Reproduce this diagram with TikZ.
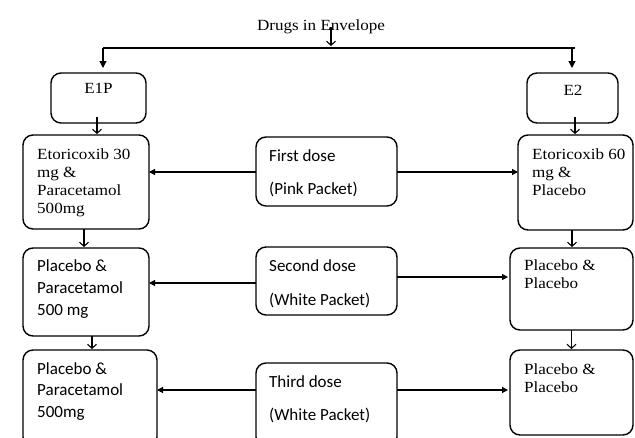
\documentclass[tikz,border=0pt]{standalone}
\usepackage{fontspec}
\usetikzlibrary{arrows.meta}
\newfontfamily\srf{Liberation Serif}[FakeStretch=1.1]
\newfontfamily\snf{Carlito}
\newcommand\mylines[2]{\parbox[t]{#1}{\raggedright #2}}
\begin{document}
\begin{tikzpicture}[x=1pt,y=-1pt,
 box/.style={draw, line width=1.4pt, rounded corners=10pt, inner sep=0pt, outer sep=0pt},
 ser/.style={font=\srf\fontsize{15.5}{18}\selectfont, inner sep=0pt, anchor=base west},
 san/.style={font=\snf\fontsize{17}{22}\selectfont, inner sep=0pt, anchor=base west},
 fa/.style={-{Triangle[length=6pt,width=6pt]}, line width=1.2pt},
 ob/.style={-{Triangle[length=7pt,width=7pt]}, line width=1.2pt},
 oa/.style={-{Straight Barb[length=4pt,width=9pt]}, line width=1.1pt}]
\useasboundingbox (0,0) rectangle (635,437);
\clip (0,0) rectangle (635,437);
% boxes
\node[box, minimum width=95pt, minimum height=50pt] (E1P) at (98.5,98) {};
\node[box, minimum width=91pt, minimum height=50pt] (E2) at (572.5,98) {};
\node[box, minimum width=126pt, minimum height=94pt] (L1) at (86,182) {};
\node[box, minimum width=115pt, minimum height=95pt] (R1) at (575.5,182.5) {};
\node[box, minimum width=141pt, minimum height=69pt] (M1) at (326.5,171.5) {};
\node[box, minimum width=126pt, minimum height=88pt] (L2) at (86,292) {};
\node[box, minimum width=141pt, minimum height=68pt] (M2) at (326.5,281) {};
\node[box, minimum width=123pt, minimum height=82pt] (R2) at (571.5,289) {};
\node[box, minimum width=134pt, minimum height=97pt] (L3) at (90,398.5) {};
\node[box, minimum width=141pt, minimum height=84pt] (M3) at (326.5,405) {};
\node[box, minimum width=123pt, minimum height=85pt] (R3) at (571.5,392.5) {};
% texts
\node[ser, anchor=base] (title) at (321,30) {Drugs in Envelope};
\node[ser, anchor=base] (tE1P) at (98.5,93) {E1P};
\node[ser, anchor=base] (tE2) at (573,95) {E2};
\node[ser] (tL1) at (37,159) {\mylines{120pt}{Etoricoxib 30\\mg \&\\Paracetamol\\500mg}};
\node[ser] (tR1) at (532,159) {\mylines{110pt}{Etoricoxib 60\\mg \&\\Placebo}};
\node[san, font=\snf\fontsize{17}{33}\selectfont] (tM1) at (269,161) {\mylines{130pt}{First dose\\(Pink Packet)}};
\node[san] (tL2) at (37,271) {\mylines{120pt}{Placebo \&\\Paracetamol\\500 mg}};
\node[san, font=\snf\fontsize{17}{34}\selectfont] (tM2) at (269,271) {\mylines{130pt}{Second dose\\(White Packet)}};
\node[ser] (tR2) at (524,270) {\mylines{110pt}{Placebo \&\\Placebo}};
\node[san, font=\snf\fontsize{17}{21.5}\selectfont] (tL3) at (37,374) {\mylines{120pt}{Placebo \&\\Paracetamol\\500mg}};
\node[san, font=\snf\fontsize{17}{33}\selectfont] (tM3) at (269,387) {\mylines{130pt}{Third dose\\(White Packet)}};
\node[ser] (tR3) at (524,374) {\mylines{110pt}{Placebo \&\\Placebo}};
% top connectors
\coordinate (ta) at (331,27);
\coordinate (tb) at (331,46);
\coordinate (hL) at (103,48);
\coordinate (hR) at (575,48);
\draw[oa] (ta) -- (tb);
\draw[line width=1.2pt] (hL) -- (hR);
\draw[ob, shorten >=5pt] (hL) -- (hL |- E1P.north);
\draw[ob, shorten >=5pt] ([xshift=-3pt]hR) -- ([xshift=-3pt]hR |- E2.north);
% vertical connectors
\draw[oa, shorten >=1pt] ([xshift=-1.5pt,yshift=6pt]E1P.south) -- ([xshift=-1.5pt]E1P.south |- L1.north);
\draw[oa, shorten >=1pt] ([xshift=-2pt]L1.south) -- ([xshift=-2pt]L1.south |- L2.north);
\draw[oa, shorten >=1pt] ([xshift=6pt]L2.south) -- ([xshift=6pt]L2.south |- L3.north);
\draw[oa, shorten >=1pt] ([xshift=2.5pt,yshift=6pt]E2.south) -- ([xshift=2.5pt]E2.south |- R1.north);
\draw[oa, shorten >=1pt] ([xshift=-3.5pt]R1.south) -- ([xshift=-3.5pt]R1.south |- R2.north);
\draw[oa, shorten >=1pt] (R2.south) -- (R2.south |- R3.north);
% horizontal connectors
\draw[fa] ([yshift=-0.5pt]M1.west) -- ([yshift=-0.5pt]M1.west -| L1.east);
\draw[fa] ([yshift=-0.5pt]M1.east) -- ([yshift=-0.5pt]M1.east -| R1.west);
\draw[fa] ([yshift=-2pt]M2.west) -- ([yshift=-2pt]M2.west -| L2.east);
\draw[fa, shorten >=2pt] ([yshift=4pt]M2.east) -- ([yshift=4pt]M2.east -| R2.west);
\draw[fa] ([yshift=15pt]M3.west) -- ([yshift=15pt]M3.west -| L3.east);
\draw[fa, shorten >=2pt] ([yshift=15pt]M3.east) -- ([yshift=15pt]M3.east -| R3.west);
\end{tikzpicture}
\end{document}
